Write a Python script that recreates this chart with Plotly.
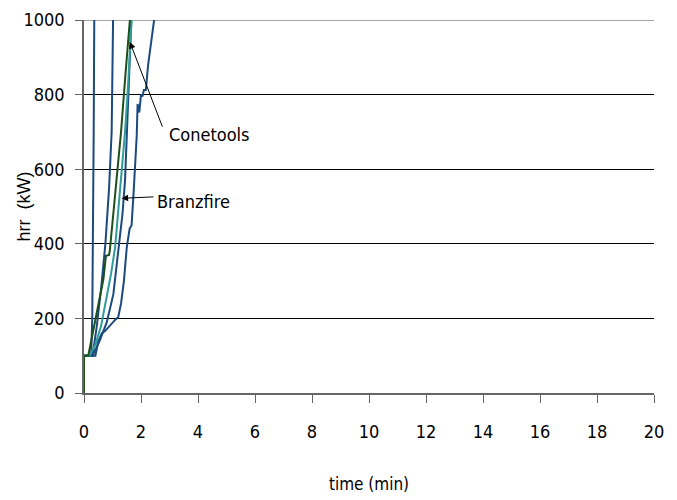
import plotly.graph_objects as go

# ---- data ----
blue_a_t = [0, 0.25, 0.29, 0.32, 0.34, 0.36]
blue_a_hrr = [100, 100, 200, 400, 700, 1000]

blue_b_t = [0, 0.3, 0.45, 0.6, 0.75, 0.88, 0.97, 1.0, 1.02]
blue_b_hrr = [100, 100, 180, 280, 400, 550, 700, 850, 1000]

green_t = [0, 0, 0.15, 0.45, 0.68, 0.77, 0.88, 0.91, 1.1, 1.3, 1.45, 1.61]
green_hrr = [0, 100, 100, 220, 305, 368, 370, 385, 540, 700, 850, 1000]

teal_t = [0, 0.2, 0.4, 0.6, 0.8, 0.95, 1.09, 1.25, 1.44, 1.55, 1.67]
teal_hrr = [100, 100, 130, 180, 260, 320, 390, 530, 700, 830, 1000]

blue_d_t = [0, 0.3, 0.55, 0.8, 1.03, 1.23, 1.35, 1.44, 1.55, 1.66]
blue_d_hrr = [100, 100, 140, 190, 265, 395, 480, 570, 780, 1000]

blue_c_t = [0, 0.4, 0.5, 0.62, 0.74, 0.91, 1.09, 1.2, 1.3, 1.4, 1.5, 1.6, 1.67,
            1.75, 1.85, 1.88, 1.94, 2.0, 2.05, 2.1, 2.17, 2.25, 2.38, 2.46]
blue_c_hrr = [100, 100, 138, 160, 166, 182, 196, 203, 240, 300, 390, 440, 450,
              550, 690, 775, 752, 800, 795, 812, 812, 880, 946, 1000]

x_ticks = [0, 2, 4, 6, 8, 10, 12, 14, 16, 18, 20]
y_ticks = [0, 200, 400, 600, 800, 1000]

BLUE = "#1b4a7e"
TEAL = "#2e9c9a"
GREEN = "#1d4f1d"
FONT = "'Liberation Sans Narrow', 'DejaVu Sans Condensed', 'Liberation Sans', sans-serif"

fig = go.Figure()
series = [
    (blue_c_t, blue_c_hrr, BLUE),
    (blue_d_t, blue_d_hrr, BLUE),
    (blue_b_t, blue_b_hrr, BLUE),
    (blue_a_t, blue_a_hrr, BLUE),
    (teal_t, teal_hrr, TEAL),
    (green_t, green_hrr, GREEN),
]
for t, h, c in series:
    fig.add_trace(go.Scatter(x=t, y=h, mode="lines",
                             line=dict(color=c, width=2), showlegend=False,
                             hoverinfo="skip"))

# page body has an 8px margin, so the figure is sized/offset to compensate
fig.update_layout(
    width=669, height=492,
    margin=dict(l=76, r=23, t=12, b=107, autoexpand=False),
    plot_bgcolor="white", paper_bgcolor="white",
    font=dict(family=FONT, color="black", size=18),
    xaxis=dict(range=[0, 20], tickvals=x_ticks, ticktext=[str(v) for v in x_ticks],
               showgrid=False, zeroline=False, showline=True, linecolor="#666666",
               linewidth=1.5, ticks="outside", ticklen=8, tickcolor="#666666",
               tickwidth=1, ticklabelstandoff=14, automargin=False,
               title=dict(text="time (min)", font=dict(size=17), standoff=37)),
    yaxis=dict(range=[0, 1000], tickvals=y_ticks, ticktext=[str(v) for v in y_ticks],
               showgrid=True, gridcolor="black", gridwidth=1, zeroline=False,
               showline=True, linecolor="#666666", linewidth=1.5,
               ticks="outside", ticklen=7, tickcolor="#666666", tickwidth=1,
               ticklabelstandoff=7, automargin=False),
)

# y-axis title as rotated text
fig.add_annotation(x=-0.107, y=0.5, xref="paper", yref="paper", text="hrr  (kW)",
                   textangle=-90, showarrow=False, xanchor="center", yanchor="middle",
                   font=dict(family="'Liberation Sans', sans-serif", size=18, color="black"))

# gray top border line over the 1000 gridline
fig.add_shape(type="line", xref="x", yref="y", x0=0, x1=20, y0=1000, y1=1000,
              line=dict(color="#888888", width=1.5), layer="between")

# annotations
fig.add_annotation(x=1.61, y=941, ax=2.77, ay=710, axref="x", ayref="y",
                   xref="x", yref="y", text="", showarrow=True, arrowhead=2,
                   arrowsize=1.3, arrowwidth=1, arrowcolor="black")
fig.add_annotation(x=2.9, y=694, xref="x", yref="y", text="Conetools",
                   showarrow=False, xanchor="left", yanchor="middle",
                   font=dict(family=FONT, size=18, color="black"))
fig.add_annotation(x=1.32, y=522, ax=2.49, ay=526, axref="x", ayref="y",
                   xref="x", yref="y", text="", showarrow=True, arrowhead=2,
                   arrowsize=1.3, arrowwidth=1, arrowcolor="black")
fig.add_annotation(x=2.5, y=513, xref="x", yref="y", text="Branzfire",
                   showarrow=False, xanchor="left", yanchor="middle",
                   font=dict(family=FONT, size=18, color="black"))

fig.write_html("out.html")
